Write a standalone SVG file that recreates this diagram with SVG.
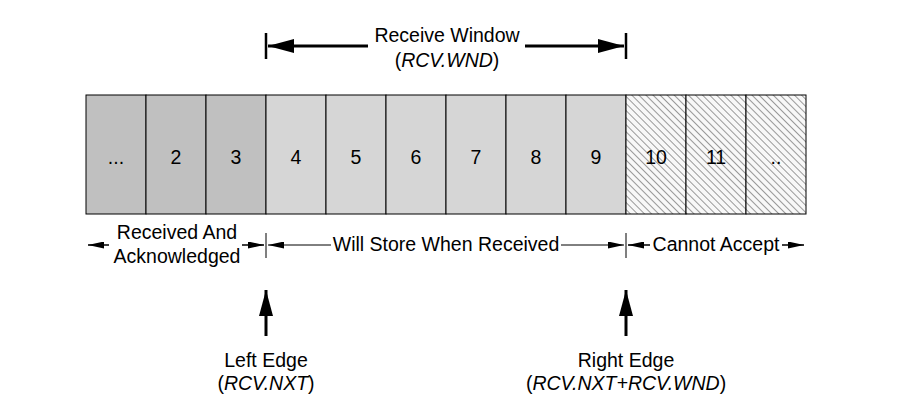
<svg xmlns="http://www.w3.org/2000/svg" width="905" height="420" viewBox="0 0 905 420">
<style>
text{font-family:"Liberation Sans",Arial,sans-serif;font-size:19.5px;fill:#000;text-anchor:middle}
.it{font-style:italic}
.cell{stroke:#000;stroke-width:1}
.dark{fill:#c0c0c0}
.light{fill:#d6d6d6}
.hatch{fill:url(#h)}
.ln{stroke:#000;fill:none}
</style>
<defs>
<pattern id="h" patternUnits="userSpaceOnUse" width="5" height="5" patternTransform="rotate(45)">
<rect width="5" height="5" fill="#f8f8f8"/>
<line x1="0" y1="0" x2="5" y2="0" stroke="#5a5a5a" stroke-width="1.2"/>
</pattern>
<marker id="as" markerWidth="16" markerHeight="7" refX="16" refY="3.5" orient="auto" markerUnits="userSpaceOnUse"><path d="M0,0 L16,3.5 L0,7 z" fill="#000"/></marker>
<marker id="au" markerWidth="26" markerHeight="14" refX="26" refY="7" orient="auto" markerUnits="userSpaceOnUse"><path d="M0,0 L26,7 L0,14 z" fill="#000"/></marker>
</defs>
<g id="cells">
<g id="c0"><rect class="cell dark" x="86" y="95" width="60" height="119"/><text x="116" y="164">...</text></g>
<g id="c2"><rect class="cell dark" x="146" y="95" width="60" height="119"/><text x="176" y="164">2</text></g>
<g id="c3"><rect class="cell dark" x="206" y="95" width="60" height="119"/><text x="236" y="164">3</text></g>
<g id="c4"><rect class="cell light" x="266" y="95" width="60" height="119"/><text x="296" y="164">4</text></g>
<g id="c5"><rect class="cell light" x="326" y="95" width="60" height="119"/><text x="356" y="164">5</text></g>
<g id="c6"><rect class="cell light" x="386" y="95" width="60" height="119"/><text x="416" y="164">6</text></g>
<g id="c7"><rect class="cell light" x="446" y="95" width="60" height="119"/><text x="476" y="164">7</text></g>
<g id="c8"><rect class="cell light" x="506" y="95" width="60" height="119"/><text x="536" y="164">8</text></g>
<g id="c9"><rect class="cell light" x="566" y="95" width="60" height="119"/><text x="596" y="164">9</text></g>
<g id="c10"><rect class="cell hatch" x="626" y="95" width="60" height="119"/><text x="656" y="164">10</text></g>
<g id="c11"><rect class="cell hatch" x="686" y="95" width="60" height="119"/><text x="716" y="164">11</text></g>
<g id="c12"><rect class="cell hatch" x="746" y="95" width="60" height="119"/><text x="776" y="164">..</text></g>
</g>
<g id="window">
<text x="447" y="42">Receive Window</text>
<text x="447" y="67">(<tspan class="it">RCV.WND</tspan>)</text>
</g>
<g id="labels">
<text x="177" y="239">Received And</text>
<text x="177" y="263">Acknowledged</text>
<text x="446" y="251">Will Store When Received</text>
<text x="716" y="251">Cannot Accept</text>
<text x="266" y="367">Left Edge</text>
<text x="266" y="390">(<tspan class="it">RCV.NXT</tspan>)</text>
<text x="626" y="367">Right Edge</text>
<text x="626" y="390">(<tspan class="it">RCV.NXT+RCV.WND</tspan>)</text>
</g>
<g id="connectors">
<line class="ln" x1="266" y1="33" x2="266" y2="59" stroke-width="2.5"/>
<line class="ln" x1="626" y1="33" x2="626" y2="59" stroke-width="2.5"/>
<line class="ln" x1="368" y1="46" x2="268" y2="46" stroke-width="3" marker-end="url(#au)"/>
<line class="ln" x1="525" y1="46" x2="624" y2="46" stroke-width="3" marker-end="url(#au)"/>
<line class="ln" x1="266" y1="233" x2="266" y2="258" stroke-width="1"/>
<line class="ln" x1="626" y1="233" x2="626" y2="258" stroke-width="1"/>
<line class="ln" x1="109" y1="245" x2="88" y2="245" stroke-width="1.5" marker-end="url(#as)"/>
<line class="ln" x1="242" y1="245" x2="264" y2="245" stroke-width="1.5" marker-end="url(#as)"/>
<line class="ln" x1="331" y1="245" x2="268" y2="245" stroke-width="1" marker-end="url(#as)"/>
<line class="ln" x1="561" y1="245" x2="624" y2="245" stroke-width="1" marker-end="url(#as)"/>
<line class="ln" x1="650" y1="245" x2="628" y2="245" stroke-width="1.5" marker-end="url(#as)"/>
<line class="ln" x1="782" y1="245" x2="804" y2="245" stroke-width="1.5" marker-end="url(#as)"/>
<line class="ln" x1="266" y1="336" x2="266" y2="290" stroke-width="3" marker-end="url(#au)"/>
<line class="ln" x1="626" y1="336" x2="626" y2="290" stroke-width="3" marker-end="url(#au)"/>
</g>
</svg>
